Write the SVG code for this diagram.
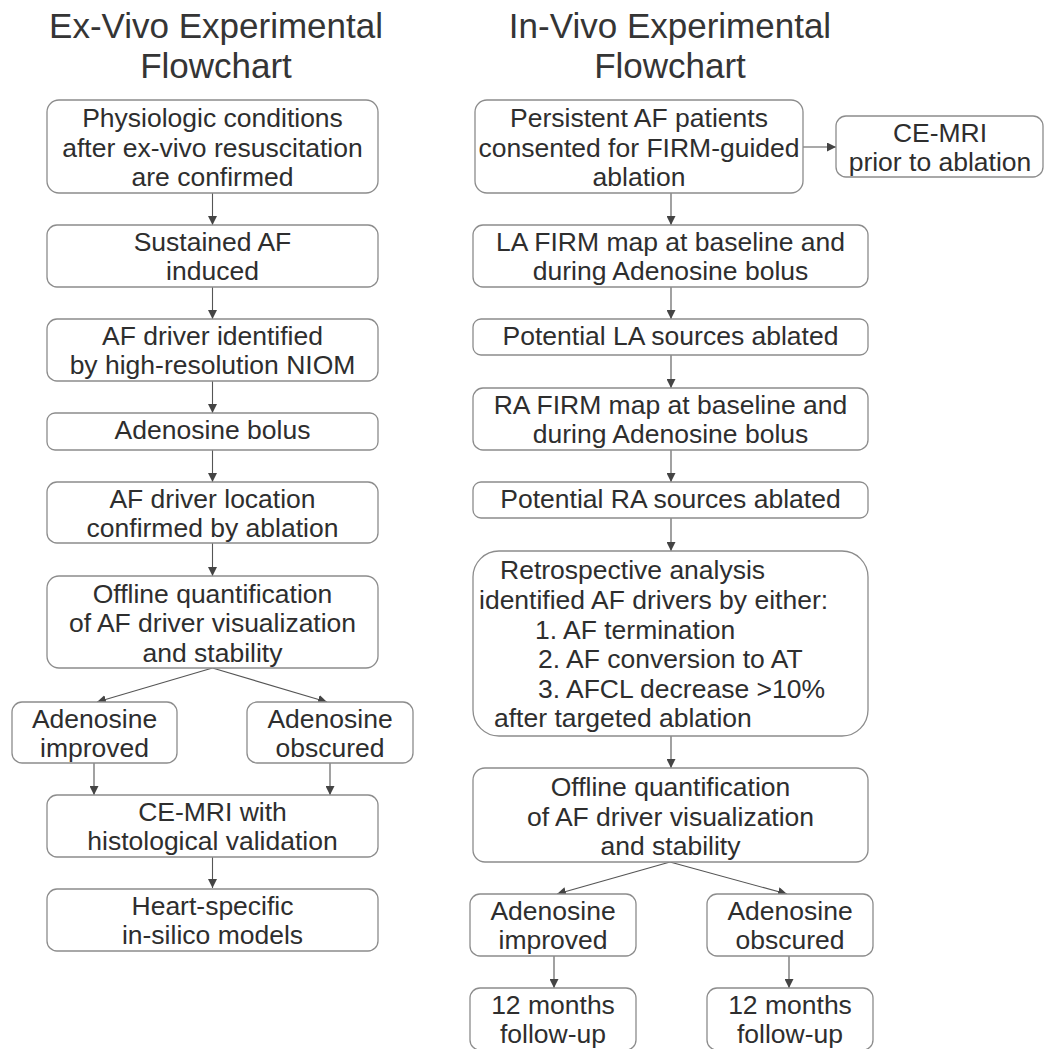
<svg xmlns="http://www.w3.org/2000/svg" width="1044" height="1049" viewBox="0 0 1044 1049">
<style>
.box{fill:#fff;stroke:#8c8c8c;stroke-width:1.3}
.t{font-family:"Liberation Sans",Arial,sans-serif;font-size:26.5px;fill:#2e2e2e;text-anchor:middle}
.tl{font-family:"Liberation Sans",Arial,sans-serif;font-size:26.5px;fill:#2e2e2e;text-anchor:start}
.title{font-family:"Liberation Sans",Arial,sans-serif;font-size:35px;fill:#353535;text-anchor:middle}
.c{stroke:#555;stroke-width:1.1;fill:none;marker-end:url(#ah)}
</style>
<defs>
<marker id="ah" markerUnits="userSpaceOnUse" markerWidth="9" markerHeight="9" refX="9" refY="4.5" orient="auto" viewBox="0 0 9 9">
<path d="M0,0 L9,4.5 L0,9 z" fill="#444"/>
</marker>
</defs>
<rect width="1044" height="1049" fill="#fff"/>
<g id="titles">
<text class="title" x="216" y="38">Ex-Vivo Experimental</text>
<text class="title" x="216" y="78">Flowchart</text>
<text class="title" x="670" y="38">In-Vivo Experimental</text>
<text class="title" x="670" y="78">Flowchart</text>
</g>
<g id="connectors">
<line class="c" x1="212.5" y1="193" x2="212.5" y2="225"/>
<line class="c" x1="212.5" y1="287" x2="212.5" y2="319"/>
<line class="c" x1="212.5" y1="381" x2="212.5" y2="413"/>
<line class="c" x1="212.5" y1="450" x2="212.5" y2="482"/>
<line class="c" x1="212.5" y1="543" x2="212.5" y2="576"/>
<line class="c" x1="212.5" y1="668" x2="97" y2="702"/>
<line class="c" x1="212.5" y1="668" x2="327" y2="702"/>
<line class="c" x1="94" y1="763" x2="94" y2="795"/>
<line class="c" x1="330" y1="763" x2="330" y2="795"/>
<line class="c" x1="212.5" y1="857" x2="212.5" y2="888"/>
<line class="c" x1="803" y1="147" x2="836" y2="147"/>
<line class="c" x1="671" y1="193" x2="671" y2="225"/>
<line class="c" x1="671" y1="287" x2="671" y2="319"/>
<line class="c" x1="671" y1="355" x2="671" y2="388"/>
<line class="c" x1="671" y1="450" x2="671" y2="482"/>
<line class="c" x1="671" y1="518" x2="671" y2="551"/>
<line class="c" x1="671" y1="736" x2="671" y2="768"/>
<line class="c" x1="670" y1="862" x2="557" y2="894"/>
<line class="c" x1="670" y1="862" x2="787" y2="894"/>
<line class="c" x1="554" y1="956" x2="554" y2="988"/>
<line class="c" x1="789" y1="956" x2="789" y2="988"/>
</g>
<g id="L1"><rect class="box" x="47" y="100" width="331" height="93" rx="12"/>
<text class="t" x="212.5" y="127">Physiologic conditions</text>
<text class="t" x="212.5" y="157">after ex-vivo resuscitation</text>
<text class="t" x="212.5" y="186">are confirmed</text></g>
<g id="L2"><rect class="box" x="47" y="225" width="331" height="62" rx="10"/>
<text class="t" x="212.5" y="251">Sustained AF</text>
<text class="t" x="212.5" y="280">induced</text></g>
<g id="L3"><rect class="box" x="47" y="319" width="331" height="62" rx="10"/>
<text class="t" x="212.5" y="345">AF driver identified</text>
<text class="t" x="212.5" y="374">by high-resolution NIOM</text></g>
<g id="L4"><rect class="box" x="47" y="413" width="331" height="37" rx="8"/>
<text class="t" x="212.5" y="439">Adenosine bolus</text></g>
<g id="L5"><rect class="box" x="47" y="482" width="331" height="61" rx="10"/>
<text class="t" x="212.5" y="508">AF driver location</text>
<text class="t" x="212.5" y="537">confirmed by ablation</text></g>
<g id="L6"><rect class="box" x="47" y="576" width="331" height="92" rx="12"/>
<text class="t" x="212.5" y="603">Offline quantification</text>
<text class="t" x="212.5" y="632">of AF driver visualization</text>
<text class="t" x="212.5" y="662">and stability</text></g>
<g id="L7a"><rect class="box" x="12" y="702" width="165" height="61" rx="10"/>
<text class="t" x="94.5" y="728">Adenosine</text>
<text class="t" x="94.5" y="757">improved</text></g>
<g id="L7b"><rect class="box" x="247" y="702" width="166" height="61" rx="10"/>
<text class="t" x="330" y="728">Adenosine</text>
<text class="t" x="330" y="757">obscured</text></g>
<g id="L8"><rect class="box" x="47" y="795" width="331" height="62" rx="10"/>
<text class="t" x="212.5" y="821">CE-MRI with</text>
<text class="t" x="212.5" y="850">histological validation</text></g>
<g id="L9"><rect class="box" x="47" y="889" width="331" height="62" rx="10"/>
<text class="t" x="212.5" y="915">Heart-specific</text>
<text class="t" x="212.5" y="944">in-silico models</text></g>
<g id="R1"><rect class="box" x="475" y="100" width="328" height="93" rx="12"/>
<text class="t" x="639" y="127">Persistent AF patients</text>
<text class="t" x="639" y="157">consented for FIRM-guided</text>
<text class="t" x="639" y="186">ablation</text></g>
<g id="Rside"><rect class="box" x="836" y="116" width="207" height="61" rx="10"/>
<text class="t" x="940" y="142">CE-MRI</text>
<text class="t" x="940" y="171">prior to ablation</text></g>
<g id="R2"><rect class="box" x="473" y="225" width="395" height="62" rx="10"/>
<text class="t" x="670.5" y="251">LA FIRM map at baseline and</text>
<text class="t" x="670.5" y="280">during Adenosine bolus</text></g>
<g id="R3"><rect class="box" x="473" y="319" width="395" height="36" rx="8"/>
<text class="t" x="670.5" y="345">Potential LA sources ablated</text></g>
<g id="R4"><rect class="box" x="473" y="388" width="395" height="62" rx="10"/>
<text class="t" x="670.5" y="414">RA FIRM map at baseline and</text>
<text class="t" x="670.5" y="443">during Adenosine bolus</text></g>
<g id="R5"><rect class="box" x="473" y="482" width="395" height="36" rx="8"/>
<text class="t" x="670.5" y="508">Potential RA sources ablated</text></g>
<g id="R6"><rect class="box" x="473" y="551" width="395" height="185" rx="26"/>
<text class="tl" x="500" y="579">Retrospective analysis</text>
<text class="tl" x="479" y="609">identified AF drivers by either:</text>
<text class="tl" x="535" y="639">1. AF termination</text>
<text class="tl" x="538" y="668">2. AF conversion to AT</text>
<text class="tl" x="538" y="698">3. AFCL decrease &gt;10%</text>
<text class="tl" x="494" y="727">after targeted ablation</text></g>
<g id="R7"><rect class="box" x="473" y="768" width="395" height="94" rx="12"/>
<text class="t" x="670.5" y="796">Offline quantification</text>
<text class="t" x="670.5" y="826">of AF driver visualization</text>
<text class="t" x="670.5" y="855">and stability</text></g>
<g id="R8a"><rect class="box" x="470" y="894" width="166" height="62" rx="10"/>
<text class="t" x="553" y="920">Adenosine</text>
<text class="t" x="553" y="949">improved</text></g>
<g id="R8b"><rect class="box" x="707" y="894" width="166" height="62" rx="10"/>
<text class="t" x="790" y="920">Adenosine</text>
<text class="t" x="790" y="949">obscured</text></g>
<g id="R9a"><rect class="box" x="470" y="988" width="166" height="62" rx="10"/>
<text class="t" x="553" y="1014">12 months</text>
<text class="t" x="553" y="1043">follow-up</text></g>
<g id="R9b"><rect class="box" x="707" y="988" width="166" height="62" rx="10"/>
<text class="t" x="790" y="1014">12 months</text>
<text class="t" x="790" y="1043">follow-up</text></g>
</svg>
